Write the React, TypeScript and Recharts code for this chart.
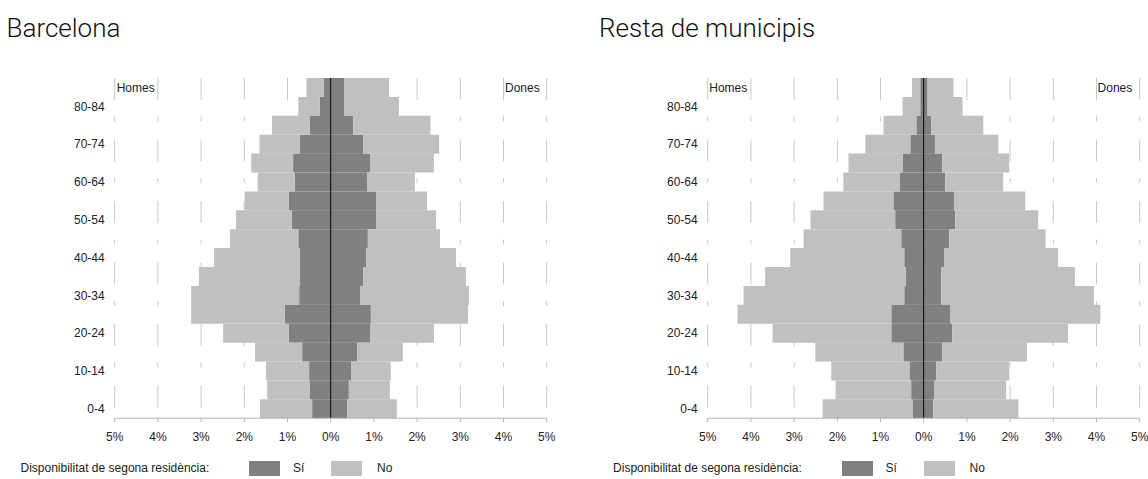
import { BarChart, Bar, XAxis, YAxis, CartesianGrid, ReferenceLine } from "recharts"

const ageGroups = [
  "0-4", "5-9", "10-14", "15-19", "20-24", "25-29", "30-34", "35-39", "40-44",
  "45-49", "50-54", "55-59", "60-64", "65-69", "70-74", "75-79", "80-84", "85+",
]

// Barcelona, % of population (men on the left)
const bcnHomesSi = [0.43, 0.48, 0.5, 0.66, 0.97, 1.06, 0.73, 0.71, 0.71, 0.75, 0.9, 0.97, 0.83, 0.87, 0.71, 0.48, 0.25, 0.16]
const bcnHomesNo = [1.21, 0.99, 1.0, 1.09, 1.52, 2.17, 2.5, 2.34, 1.99, 1.58, 1.29, 1.02, 0.86, 0.97, 0.94, 0.88, 0.5, 0.4]
const bcnDonesSi = [0.38, 0.42, 0.47, 0.61, 0.91, 0.93, 0.68, 0.75, 0.82, 0.86, 1.05, 1.05, 0.84, 0.91, 0.75, 0.52, 0.31, 0.31]
const bcnDonesNo = [1.15, 0.95, 0.92, 1.06, 1.48, 2.25, 2.52, 2.38, 2.08, 1.67, 1.39, 1.18, 1.11, 1.48, 1.76, 1.79, 1.27, 1.04]

// Resta de municipis
const restaHomesSi = [0.26, 0.29, 0.33, 0.47, 0.75, 0.75, 0.45, 0.42, 0.45, 0.52, 0.66, 0.7, 0.56, 0.49, 0.31, 0.17, 0.08, 0.08]
const restaHomesNo = [2.08, 1.75, 1.81, 2.04, 2.75, 3.56, 3.72, 3.25, 2.64, 2.26, 1.96, 1.62, 1.3, 1.25, 1.04, 0.76, 0.41, 0.19]
const restaDonesSi = [0.22, 0.25, 0.29, 0.43, 0.66, 0.62, 0.41, 0.41, 0.48, 0.59, 0.73, 0.7, 0.5, 0.43, 0.26, 0.17, 0.09, 0.09]
const restaDonesNo = [1.97, 1.66, 1.69, 1.96, 2.68, 3.47, 3.53, 3.09, 2.63, 2.23, 1.92, 1.65, 1.34, 1.55, 1.47, 1.21, 0.81, 0.6]

const xTicks = [-5, -4, -3, -2, -1, 0, 1, 2, 3, 4, 5]

const DARK = "#808080"
const LIGHT = "#c0c0c0"
const FONT = "'Liberation Sans', Arial, sans-serif"

function buildRows(hSi: number[], hNo: number[], dSi: number[], dNo: number[]) {
  return ageGroups.map((age, i) => ({
    age,
    hSi: -hSi[i],
    hNo: -hNo[i],
    dSi: dSi[i],
    dNo: dNo[i],
  }))
}

const small = { fontFamily: FONT, fontSize: 12, color: "#222", lineHeight: "12px", position: "absolute" as const, whiteSpace: "nowrap" as const }

function Pyramid({ title, left, rows }: { title: string; left: number; rows: ReturnType<typeof buildRows> }) {
  return (
    <div style={{ position: "absolute", left, top: 0, width: 560, height: 479 }}>
      <div style={{ position: "absolute", left: 6.5, top: 14.8, fontFamily: "Roboto, sans-serif", fontWeight: 300, fontSize: 26, lineHeight: "26px", color: "#111", whiteSpace: "nowrap" }}>
        {title}
      </div>
      <div style={{ position: "absolute", left: 0, top: 60 }}>
        <BarChart
          width={560}
          height={400}
          data={rows}
          layout="vertical"
          stackOffset="sign"
          barCategoryGap={0}
          barGap={0}
          margin={{ top: 18, right: 13.3, left: 64.7, bottom: 11.8 }}
        >
          <CartesianGrid horizontal={false} stroke="#c8c8c8" strokeDasharray="22 16.5 5 18" />
          <XAxis
            type="number"
            domain={[-5, 5]}
            ticks={xTicks}
            allowDataOverflow
            height={30}
            tickSize={4}
            tickMargin={10.5}
            stroke="#b4b4b4"
            tick={{ fontSize: 12, fill: "#222", fontFamily: FONT }}
            tickFormatter={(v: number) => `${Math.abs(v)}%`}
          />
          <YAxis
            type="category"
            dataKey="age"
            reversed
            interval={1}
            width={50}
            axisLine={false}
            tickLine={false}
            tickMargin={4}
            tick={{ fontSize: 12, fill: "#222", fontFamily: FONT }}
          />
          <Bar dataKey="hSi" stackId="p" fill={DARK} isAnimationActive={false} />
          <Bar dataKey="hNo" stackId="p" fill={LIGHT} isAnimationActive={false} />
          <Bar dataKey="dSi" stackId="p" fill={DARK} isAnimationActive={false} />
          <Bar dataKey="dNo" stackId="p" fill={LIGHT} isAnimationActive={false} />
          <ReferenceLine x={0} stroke="#000" strokeWidth={1} />
        </BarChart>
      </div>
      <div style={{ ...small, left: 116.7, top: 81.5 }}>Homes</div>
      <div style={{ ...small, left: 505, top: 81.5 }}>Dones</div>
      <div style={{ ...small, left: 20.5, top: 462.3 }}>Disponibilitat de segona residència:</div>
      <div style={{ position: "absolute", left: 249, top: 460.5, width: 31, height: 15, background: DARK }} />
      <div style={{ ...small, left: 293, top: 462.3 }}>Sí</div>
      <div style={{ position: "absolute", left: 331, top: 460.5, width: 31, height: 15, background: LIGHT }} />
      <div style={{ ...small, left: 377, top: 462.3 }}>No</div>
    </div>
  )
}

export default function App() {
  return (
    <div style={{ position: "absolute", left: 0, top: 0, width: 1148, height: 479, background: "#fff", overflow: "hidden" }}>
      <Pyramid title="Barcelona" left={0} rows={buildRows(bcnHomesSi, bcnHomesNo, bcnDonesSi, bcnDonesNo)} />
      <Pyramid title="Resta de municipis" left={592.6} rows={buildRows(restaHomesSi, restaHomesNo, restaDonesSi, restaDonesNo)} />
    </div>
  )
}
